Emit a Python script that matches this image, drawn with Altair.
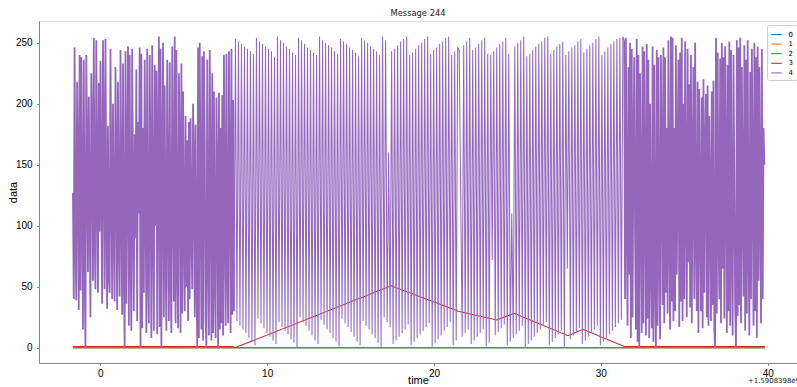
import altair as alt
import pandas as pd

TITLE = "Message 244"
OFFSET_LABEL = "+1.5908398e9"
SERIES = ["0", "1", "2", "3", "4"]
COLORS = ["#1f77b4", "#ff7f0e", "#2ca02c", "#d62728", "#9467bd"]
X_TICKS = [0, 10, 20, 30, 40]
Y_TICKS = [0, 50, 100, 150, 200, 250]

# series 0, 1, 2: flat at zero over the whole record
flat_t = [-1.64, 39.83]
flat_v = [0, 0]

# series 3 (red) breakpoints
red_t = [-1.64, 7.95, 8.07, 17.43, 20.96, 21.45, 23.75, 24.80, 28.03, 28.93, 31.40, 39.83]
red_v = [1, 1, 0, 50.8, 32.5, 30.0, 22.7, 28.2, 9.9, 15.1, 1, 1]

# series 4 (purple): segments sampled at a fixed period (start, period, values)
seg_a_start, seg_a_period = -1.64, 0.05
seg_a = [
    127, 40, 246, 85, 39, 218, 150, 31, 240, 47,
    238, 120, 15, 236, 70, 0, 240, 160, 62, 206,
    110, 25, 225, 180, 55, 254, 95, 48, 252, 140,
    45, 217, 95, 235, 130, 36, 252, 170, 48, 253,
    113, 32, 182, 60, 45, 245, 140, 40, 200, 100,
    38, 230, 155, 31, 218, 90, 42, 244, 120, 27,
    233, 65, 0, 243, 36, 150, 247, 18, 240, 80,
    14, 245, 125, 30, 175, 90, 228, 22, 185, 110,
    246, 0, 241, 16, 180, 45, 236, 130, 12, 245,
    60, 20, 240, 150, 8, 248, 105, 14, 232, 100,
    227, 11, 160, 255, 17, 245, 0, 140, 250, 25,
    215, 80, 14, 236, 120, 22, 234, 60, 12, 247,
    130, 38, 255, 20, 244, 70, 16, 225, 160, 12,
    233, 28, 210, 95, 30, 190, 50, 170, 22, 185,
    40, 188, 100, 48, 200, 150, 25, 183, 60, 0,
    246, 8, 250, 120, 15, 239, 6, 243, 170, 24,
    0, 236, 90, 10, 244, 130, 6, 225, 12, 210,
    60, 8, 205, 140, 0, 209, 15, 180, 20, 207,
    10, 240, 110, 18, 241, 65, 20, 243, 140, 12,
    245, 27, 203, 30,
]

seg_b_start, seg_b_period = 8.10, 0.09
seg_b_highs = [
    253, 251, 249, 247, 245, 243, 241,
    254, 251, 249, 247, 245, 243, 238,
    255, 252, 250, 247, 245, 242, 240,
    254, 252, 249, 246, 244, 242, 240,
    255, 252, 250, 248, 246, 243, 241,
    253, 251, 249, 246, 244, 242, 239,
    254, 252, 250, 247, 245, 243, 240,
    255, 252, 160,
    243, 245, 248, 251, 253, 255,
    240, 242, 245, 248, 250, 253, 255,
    241, 244, 246, 249, 251, 254, 255,
    240, 243, 246, 244,
]
seg_b_lows = [
    22, 18, 15, 12, 8, 5, 2,
    24, 20, 16, 12, 9, 6, 3,
    21, 17, 14, 11, 7, 4, 0,
    25, 21, 18, 14, 10, 6, 3,
    23, 19, 15, 12, 8, 5, 1,
    24, 20, 17, 13, 9, 5, 2,
    22, 18, 15, 11, 8, 4, 1,
    25, 21, 17,
    3, 6, 9, 12, 15, 19,
    2, 5, 8, 11, 14, 17, 20,
    1, 4, 7, 10, 14, 17, 21,
    2, 6,
]

seg_c_start, seg_c_period = 21.69, 0.09
seg_c_lows = [
    9, 12, 15,
    3, 6, 9, 12, 15,
    1, 4, 72, 10, 13, 16, 19,
    2, 5, 8, 11, 14, 18,
    0, 3, 6, 9, 12, 15, 18, 21,
    2, 5, 8, 11, 14,
    1, 65, 7, 10, 13, 16,
    3, 6, 9, 12, 15, 18,
    2, 5, 8, 11,
    14, 17, 20, 23,
]
seg_c_highs = [
    248, 251, 254,
    244, 246, 249, 252, 254,
    241, 240, 243, 246, 249, 251, 254,
    241, 110, 247, 250, 252, 255,
    239, 241, 244, 247, 249, 251, 254, 255,
    241, 244, 247, 249, 251,
    240, 243, 246, 248, 251, 253,
    242, 245, 248, 250, 253, 255,
    240, 243, 246, 249,
    251, 253, 254, 255,
]

seg_d_start, seg_d_period = 31.40, 0.05
seg_d = [
    252, 40, 254, 110, 18, 230, 60, 250, 8, 245,
    25, 160, 238, 95, 15, 253, 5, 240, 0, 225,
    120, 12, 247, 20, 243, 130, 10, 249, 24, 236,
    8, 200, 70, 16, 247, 5, 232, 60, 0, 244,
    18, 238, 90, 7, 240, 150, 35, 246, 20, 238,
    45, 180, 28, 252, 100, 15, 255, 38, 254, 22,
    180, 30, 248, 60, 140, 236, 17, 242, 38, 254,
    22, 200, 40, 251, 125, 25, 245, 70, 216, 33,
    240, 20, 150, 230, 40, 250, 95, 30, 218, 12,
    212, 110, 30, 205, 16, 220, 45, 160, 208, 25,
    215, 18, 190, 120, 22, 210, 35, 219, 15, 0,
    254, 28, 242, 100, 40, 237, 20, 250, 65, 238,
    24, 247, 150, 12, 232, 30, 251, 18, 244, 85,
    10, 240, 130, 35, 0, 252, 26, 246, 35, 254,
    20, 230, 120, 42, 248, 14, 236, 28, 252, 90,
    10, 226, 40, 245, 140, 18, 250, 30, 238, 8,
    247, 55, 230, 120, 20, 245, 40, 180, 150,
]


def interleave(first, second):
    out = []
    for i in range(max(len(first), len(second))):
        if i < len(first):
            out.append(first[i])
        if i < len(second):
            out.append(second[i])
    return out


def sampled(start, period, values):
    return [(round(start + i * period, 4), v) for i, v in enumerate(values)]


pts_a = sampled(seg_a_start, seg_a_period, seg_a)
pts_mid = (
    sampled(seg_b_start, seg_b_period, interleave(seg_b_highs, seg_b_lows))
    + sampled(seg_c_start, seg_c_period, interleave(seg_c_lows, seg_c_highs))
)
pts_d = sampled(seg_d_start, seg_d_period, seg_d)
# the middle piece shares its end points with the dense pieces so the line is continuous
pts_mid = [pts_a[-1]] + pts_mid + [pts_d[0]]


def frame(points, series):
    return pd.DataFrame({"t": [p[0] for p in points], "v": [p[1] for p in points], "series": series})


FONT = "DejaVu Sans"
FS = 6.94

x_enc = alt.X(
    "t:Q",
    scale=alt.Scale(domain=[-3.674, 41.756], nice=False, zero=False),
    axis=alt.Axis(values=X_TICKS, title="time", format="d", grid=False,
                  tickSize=2.4, labelPadding=2.8, titleFontWeight="normal",
                  titleY=20.3, titleBaseline="alphabetic"),
)
y_enc = alt.Y(
    "v:Q",
    scale=alt.Scale(domain=[-12.5, 267.8], nice=False, zero=False),
    axis=alt.Axis(values=Y_TICKS, title="data", format="d", grid=False,
                  tickSize=2.4, labelPadding=4.5, titleFontWeight="normal",
                  titleX=-25.5, titleBaseline="middle"),
)
color_enc = alt.Color(
    "series:N",
    scale=alt.Scale(domain=SERIES, range=COLORS),
    legend=alt.Legend(
        title=None, orient="none", legendX=728, legendY=4,
        symbolType="stroke", symbolStrokeWidth=1.1, symbolSize=110,
        labelFontSize=FS, labelFont=FONT, labelOffset=6, rowPadding=0.6,
        fillColor="white", strokeColor="#cccccc", padding=3.5, cornerRadius=2,
    ),
)

pieces = [
    (frame(list(zip(flat_t, flat_v)), "0"), 1.04),
    (frame(list(zip(flat_t, flat_v)), "1"), 1.04),
    (frame(list(zip(flat_t, flat_v)), "2"), 1.04),
    (frame(list(zip(red_t, red_v)), "3"), 1.04),
    (frame(pts_mid, "4"), 1.04),
    (frame(pts_a, "4"), 1.8),
    (frame(pts_d, "4"), 1.8),
]

layers = []
for df, w in pieces:
    layers.append(
        alt.Chart(df).mark_line(strokeWidth=w, clip=True, interpolate="linear").encode(
            x=x_enc, y=y_enc, color=color_enc, order="t:Q"
        )
    )

offset_text = alt.Chart(pd.DataFrame({"label": [OFFSET_LABEL]})).mark_text(
    align="left", baseline="middle", fontSize=FS, font=FONT, color="#222222"
).encode(text="label:N", x=alt.value(709), y=alt.value(360))

chart = alt.layer(*layers, offset_text).properties(
    width=758,
    height=342,
    title=alt.TitleParams(TITLE, fontSize=8.33, font=FONT, fontWeight="normal",
                          anchor="middle", offset=4, color="#222222"),
    autosize=alt.AutoSizeParams(type="none"),
    padding={"left": 39, "top": 21, "right": 0, "bottom": 24},
).configure_view(
    stroke="#444444", strokeWidth=0.6
).configure_axis(
    labelFont=FONT, titleFont=FONT, labelFontSize=FS, titleFontSize=FS,
    labelColor="#222222", titleColor="#222222", titleFontWeight="normal",
    domainColor="#444444", domainWidth=0.6, tickColor="#444444", tickWidth=0.6,
).configure(background="white")

chart.save("out.html", embed_options={"renderer": "svg", "actions": False})
